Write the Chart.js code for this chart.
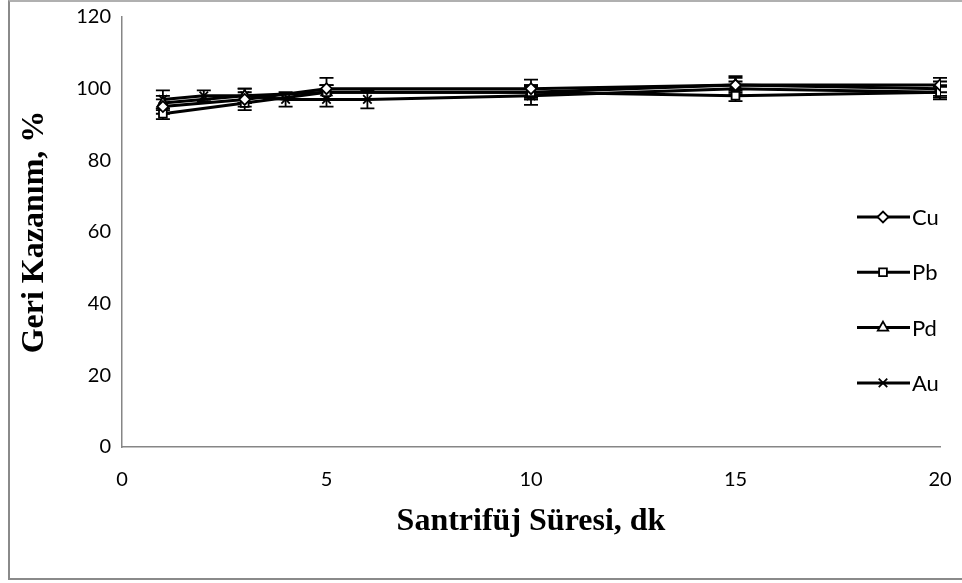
<!DOCTYPE html>
<html>
<head>
<meta charset="utf-8">
<script src="https://cdn.jsdelivr.net/npm/chart.js@4"></script>
<style>
  html, body { margin: 0; padding: 0; background: #fff; }
  #wrap { position: relative; width: 962px; height: 583px; }
  #frame { position: absolute; left: 8px; top: 0; width: 960px; height: 576px;
           border-left: 2px solid #8a8a8a; border-top: 2px solid #b0b0b0; border-bottom: 2px solid #8a8a8a; }
  canvas { position: absolute; left: 0; top: 0; }
</style>
</head>
<body>
<div id="wrap">
  <div id="frame"></div>
  <canvas id="chart" width="962" height="583"></canvas>
</div>
<script>
(function () {
  // --- data
  const seriesNames = ['Cu', 'Pb', 'Pd', 'Au'];

  const cuX = [1, 3, 5, 10, 15, 20];
  const cuY = [95, 97, 100, 100, 101, 101];
  const cuErr = [2, 2, 3, 2.5, 2, 2];

  const pbX = [1, 3, 5, 10, 15, 20];
  const pbY = [93, 96, 99, 99, 98, 99];
  const pbErr = [1.5, 2, 2, 2, 1.5, 1.5];

  const pdX = [1, 3, 5, 10, 15, 20];
  const pdY = [96, 98, 99, 99, 101, 100];
  const pdErr = [2, 2, 2, 2, 2.5, 2];

  const auX = [1, 2, 3, 4, 5, 6, 10, 15, 20];
  const auY = [97, 98, 98, 97, 97, 97, 98, 100, 99];
  const auErr = [2.5, 1.5, 2, 2, 2, 2.5, 2.5, 2, 2];

  const xTicks = [0, 5, 10, 15, 20];
  const yTicks = [0, 20, 40, 60, 80, 100, 120];

  const markers = ['rectRot', 'rect', 'triangle', 'crossRot'];
  const markerRadius = [5.5, 5.5, 6, 6];

  const tickFont = { family: 'Lato', size: 20 };
  const titleFont = { family: 'Liberation Serif', size: 32, weight: 'bold' };

  function pts(xs, ys) { return xs.map((x, i) => ({ x, y: ys[i] })); }

  function makeSet(i, xs, ys, errs) {
    return {
      label: seriesNames[i],
      data: pts(xs, ys),
      errors: errs,
      borderColor: '#000',
      borderWidth: 3,
      pointStyle: markers[i],
      pointRadius: markerRadius[i],
      pointBackgroundColor: '#fff',
      pointBorderColor: '#000',
      pointBorderWidth: 1.8,
      tension: 0,
      fill: false
    };
  }

  // --- error bars through the scales
  const errorBars = {
    id: 'errorBars',
    beforeDatasetsDraw(chart) {
      const ctx = chart.ctx;
      const xs = chart.scales.x, ys = chart.scales.y;
      ctx.save();
      ctx.strokeStyle = '#000';
      ctx.lineWidth = 1.8;
      chart.data.datasets.forEach(ds => {
        ds.data.forEach((p, i) => {
          const e = ds.errors[i];
          const px = xs.getPixelForValue(p.x);
          const top = ys.getPixelForValue(p.y + e);
          const bot = ys.getPixelForValue(p.y - e);
          ctx.beginPath();
          ctx.moveTo(px, top); ctx.lineTo(px, bot);
          ctx.moveTo(px - 7, top); ctx.lineTo(px + 7, top);
          ctx.moveTo(px - 7, bot); ctx.lineTo(px + 7, bot);
          ctx.stroke();
        });
      });
      ctx.restore();
    }
  };

  // --- legend on the right: line + marker + name
  const sideLegend = {
    id: 'sideLegend',
    afterDraw(chart) {
      const ctx = chart.ctx;
      ctx.save();
      chart.data.datasets.forEach((ds, i) => {
        const y = 217 + i * 55.3;
        ctx.strokeStyle = '#000';
        ctx.lineWidth = 3;
        ctx.beginPath();
        ctx.moveTo(857, y); ctx.lineTo(910, y);
        ctx.stroke();
        ctx.fillStyle = '#fff';
        ctx.strokeStyle = '#000';
        ctx.lineWidth = 1.8;
        Chart.helpers.drawPoint(ctx, { pointStyle: ds.pointStyle, radius: ds.pointRadius, rotation: 0, borderWidth: 1.8 }, 883, y);
        ctx.fillStyle = '#000';
        ctx.font = '22px Lato';
        ctx.textAlign = 'left';
        ctx.textBaseline = 'middle';
        ctx.fillText(ds.label, 912, y + 1);
      });
      ctx.restore();
    }
  };

  new Chart(document.getElementById('chart').getContext('2d'), {
    type: 'line',
    data: {
      datasets: [
        makeSet(0, cuX, cuY, cuErr),
        makeSet(1, pbX, pbY, pbErr),
        makeSet(2, pdX, pdY, pdErr),
        makeSet(3, auX, auY, auErr)
      ]
    },
    options: {
      responsive: false,
      animation: false,
      layout: { padding: { left: 0, right: 22, top: 17, bottom: 0 } },
      plugins: { legend: { display: false }, tooltip: { enabled: false } },
      scales: {
        x: {
          type: 'linear', min: 0, max: 20,
          afterBuildTicks: s => { s.ticks = xTicks.map(v => ({ value: v })); },
          afterFit: s => { s.height = 136; s.paddingLeft = 0; s.paddingRight = 0; },
          grid: { display: false, drawTicks: false },
          border: { display: true, color: '#868686', width: 1.5 },
          ticks: { font: tickFont, color: '#000', padding: 21 },
          title: { display: true, text: 'Santrifüj Süresi, dk', font: titleFont, color: '#000', padding: { top: 0, bottom: 42 } }
        },
        y: {
          min: 0, max: 120,
          afterBuildTicks: s => { s.ticks = yTicks.map(v => ({ value: v })); },
          afterFit: s => { s.width = 122; s.paddingTop = 0; s.paddingBottom = 0; },
          grid: { display: false, drawTicks: false },
          border: { display: true, color: '#868686', width: 1.5 },
          ticks: { font: tickFont, color: '#000', padding: 11 },
          title: { display: true, text: 'Geri Kazanım, %', font: titleFont, color: '#000', padding: { top: 16, bottom: 0 } }
        }
      }
    },
    plugins: [errorBars, sideLegend]
  });
})();
</script>
</body>
</html>
